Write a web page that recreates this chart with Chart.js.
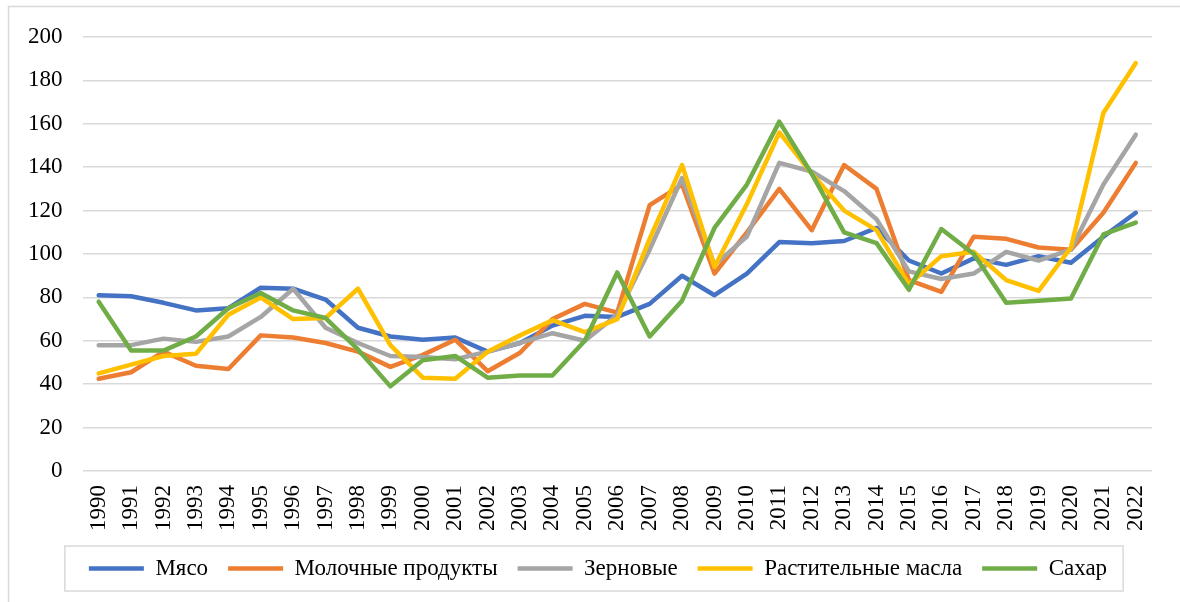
<!DOCTYPE html>
<html>
<head>
<meta charset="utf-8">
<script src="https://cdn.jsdelivr.net/npm/chart.js@4"></script>
<style>
    html, body { margin: 0; padding: 0; background: #fff; }
    #wrap { width: 1180px; height: 602px; position: relative; }
</style>
</head>
<body>
<div id="wrap"><canvas id="food-chart" width="1180" height="602"></canvas></div>
<script>
const years = ['1990', '1991', '1992', '1993', '1994', '1995', '1996', '1997', '1998', '1999', '2000',
    '2001', '2002', '2003', '2004', '2005', '2006', '2007', '2008', '2009', '2010', '2011',
    '2012', '2013', '2014', '2015', '2016', '2017', '2018', '2019', '2020', '2021', '2022'];

const meat = [81, 80.5, 77.5, 74, 75, 84.5, 84, 79, 66, 62, 60.5, 61.5, 55, 59, 67, 71.5, 71,
    77, 90, 81, 91, 105.5, 105, 106, 112, 97, 91, 98, 95, 99, 96, 108, 119];
const dairy = [42.5, 45.5, 55, 48.5, 47, 62.5, 61.5, 59, 55, 48, 53.5, 60.5, 46, 54.5, 70, 77, 73,
    122.5, 132, 91, 110, 130, 111, 141, 130, 88, 82.5, 108, 107, 103, 102, 119, 142];
const grain = [58, 58, 61, 59.5, 62, 71, 84, 66, 59, 53, 52.5, 51.5, 55, 59, 63.5, 60, 72,
    102, 135, 95, 108, 142, 138, 129, 116, 92, 88.5, 91, 101, 97, 102, 132, 155];
const oils = [45, 49, 53, 54, 72, 80, 70, 70.5, 84, 58, 43, 42.5, 55, 62.5, 69.5, 64, 70,
    107, 141, 94, 123, 156, 137, 120, 111, 86, 99, 101, 88, 83, 103, 165, 188];
const sugar = [78, 55.5, 55.5, 62, 75, 82, 74, 70.5, 56, 39, 51, 53, 43, 44, 44, 60, 91.5,
    62, 78.5, 112, 132, 161, 137, 110, 105, 83.5, 111.5, 100, 77.5, 78.5, 79.5, 109, 114.5];

const seriesNames = ['Мясо', 'Молочные продукты', 'Зерновые', 'Растительные масла', 'Сахар'];
const yTicks = [0, 20, 40, 60, 80, 100, 120, 140, 160, 180, 200];

const colors = ['#4472C4', '#ED7D31', '#A5A5A5', '#FFC000', '#70AD47'];
const fontFamily = '"Liberation Serif", "Times New Roman", serif';

function makeSet(i, values) {
    return {
        label: seriesNames[i],
        data: values,
        borderColor: colors[i],
        backgroundColor: colors[i],
        borderWidth: 4.5,
        borderCapStyle: 'round',
        borderJoinStyle: 'round',
        pointRadius: 0,
        pointStyle: 'line',
        tension: 0,
        order: 4 - i
    };
}

// frame around the whole chart and around the legend
const framePlugin = {
    id: 'frame',
    afterLayout(chart) {
        // the legend sits a little right of centre in the original
        chart.legend.left += 18;
        chart.legend.right += 18;
    },
    beforeDraw(chart) {
        const ctx = chart.ctx;
        ctx.save();
        ctx.strokeStyle = '#d9d9d9';
        ctx.lineWidth = 1.5;
        ctx.strokeRect(8.5, 6.5, 1200, 620);
        ctx.restore();
    },
    afterDraw(chart) {
        const boxes = chart.legend.legendHitBoxes;
        if (!boxes || !boxes.length) return;
        const first = boxes[0];
        const last = boxes[boxes.length - 1];
        const ctx = chart.ctx;
        ctx.save();
        ctx.strokeStyle = '#d9d9d9';
        ctx.lineWidth = 1.5;
        ctx.strokeRect(first.left - 24, first.top - 11, last.left + last.width + 16 - (first.left - 24), first.height + 22);
        ctx.restore();
    }
};

document.addEventListener('DOMContentLoaded', function () {
    const canvas = document.getElementById('food-chart');

    new Chart(canvas, {
        type: 'line',
        data: {
            labels: years,
            datasets: [
                makeSet(0, meat),
                makeSet(1, dairy),
                makeSet(2, grain),
                makeSet(3, oils),
                makeSet(4, sugar)
            ]
        },
        options: {
            responsive: false,
            animation: false,
            devicePixelRatio: 1,
            layout: {
                padding: { left: 8, right: 28, top: 37, bottom: 12 }
            },
            scales: {
                x: {
                    offset: true,
                    grid: { display: false },
                    border: { display: false },
                    ticks: {
                        color: '#000',
                        font: { family: fontFamily, size: 23 },
                        minRotation: 90,
                        maxRotation: 90,
                        autoSkip: false,
                        padding: 6
                    }
                },
                y: {
                    min: 0,
                    max: 200,
                    afterBuildTicks(axis) {
                        axis.ticks = yTicks.map(v => ({ value: v }));
                    },
                    grid: { color: '#d9d9d9', lineWidth: 1.5, drawTicks: false },
                    border: { display: false },
                    ticks: {
                        color: '#000',
                        font: { family: fontFamily, size: 23 },
                        padding: 20
                    }
                }
            },
            plugins: {
                legend: {
                    position: 'bottom',
                    labels: {
                        color: '#000',
                        font: { family: fontFamily, size: 23 },
                        usePointStyle: true,
                        pointStyleWidth: 55,
                        padding: 20,
                        sort: (a, b) => a.datasetIndex - b.datasetIndex
                    }
                },
                tooltip: { enabled: false }
            }
        },
        plugins: [framePlugin]
    });
});
</script>
</body>
</html>
